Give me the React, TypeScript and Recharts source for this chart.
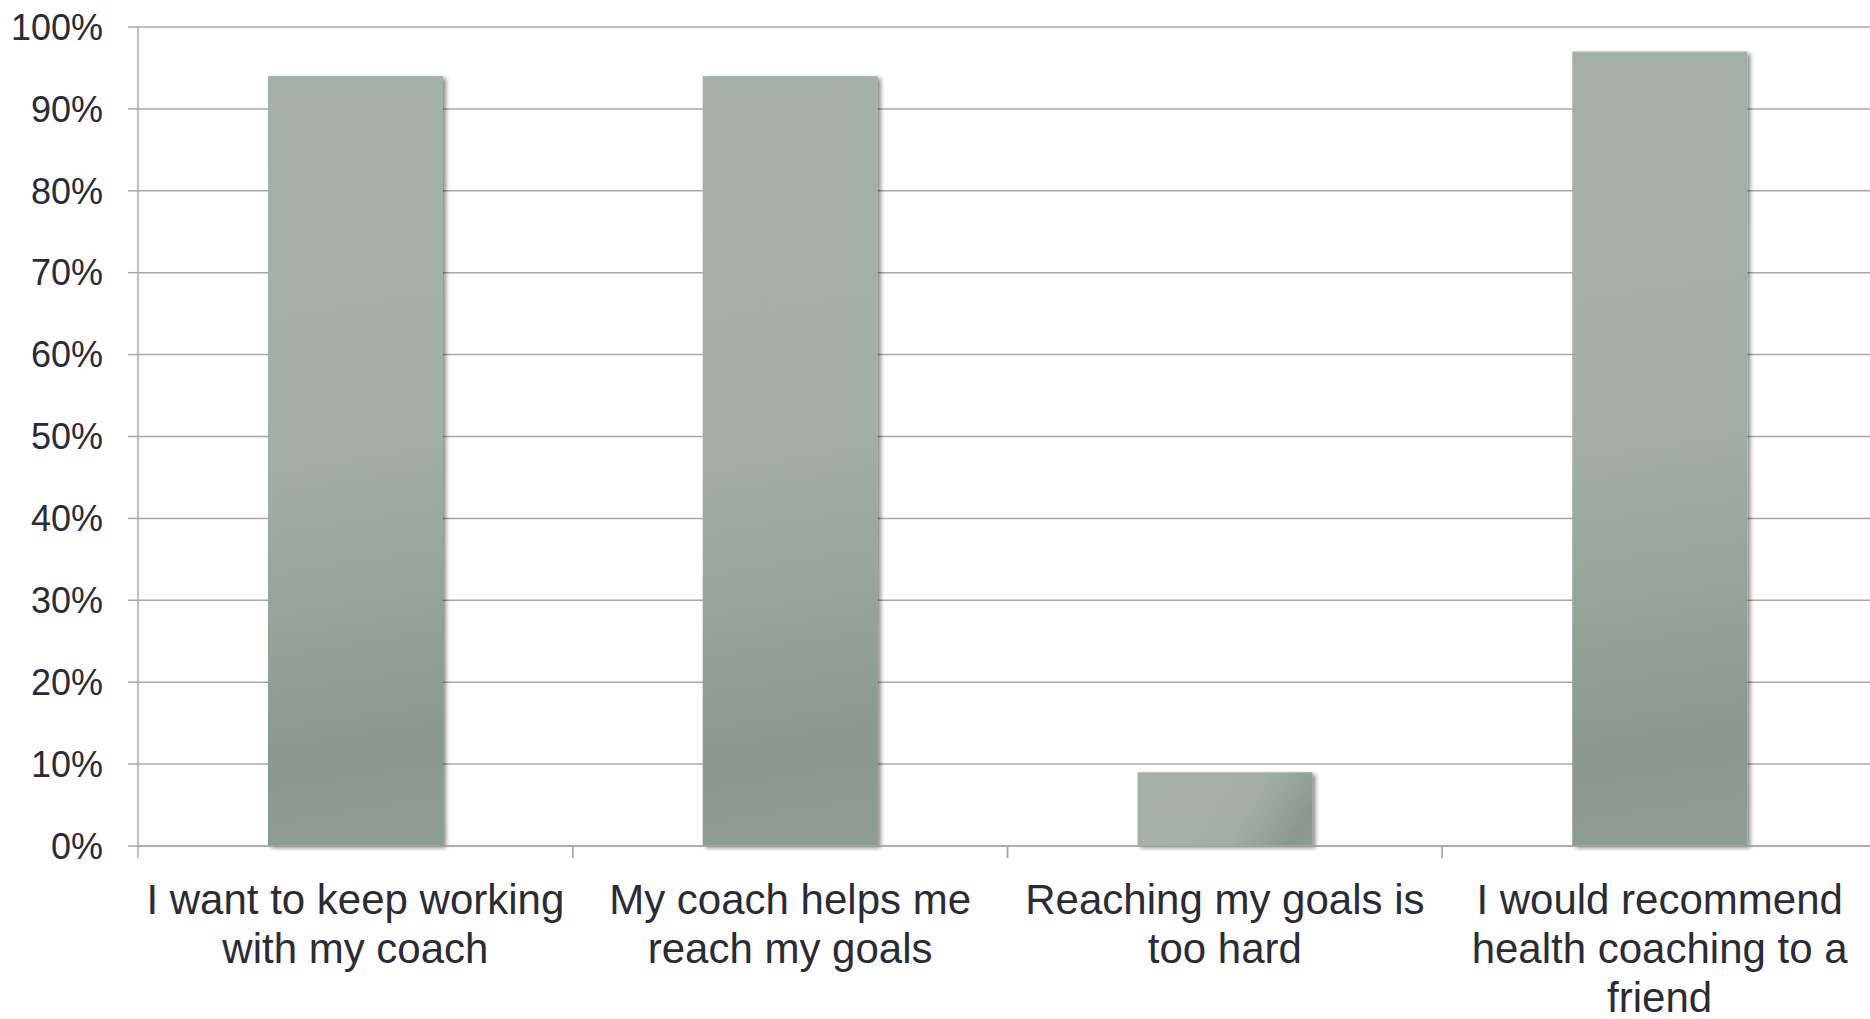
import React from 'react';
import { BarChart, Bar, XAxis, YAxis, CartesianGrid } from 'recharts';

const categories = [
  'I want to keep working with my coach',
  'My coach helps me reach my goals',
  'Reaching my goals is too hard',
  'I would recommend health coaching to a friend',
];
const agreePct = [94, 94, 9, 97];
const yTicks = [0, 10, 20, 30, 40, 50, 60, 70, 80, 90, 100];

const chartData = categories.map((name, i) => ({ name, value: agreePct[i] }));

const FONT = '"Liberation Sans", Arial, sans-serif';
const TEXT = '#2b2b36';
const GRID = '#a8a8a8';

let ctx: CanvasRenderingContext2D | null = null;
const wrap = (label: string, maxWidth: number) => {
  if (!ctx) {
    ctx = document.createElement('canvas').getContext('2d');
    if (ctx) ctx.font = `42px ${FONT}`;
  }
  const words = label.split(' ');
  const lines: string[] = [];
  let line = '';
  words.forEach(w => {
    const next = line ? `${line} ${w}` : w;
    const width = ctx ? ctx.measureText(next).width : next.length * 19;
    if (width > maxWidth && line) {
      lines.push(line);
      line = w;
    } else {
      line = next;
    }
  });
  if (line) lines.push(line);
  return lines;
};

// label plus the tick marks at the category edges (excel style)
const CategoryTick = (props: any) => {
  const { x, y, payload } = props;
  const half = payload.offset || 0;
  const lines = wrap(String(payload.value), 430);
  return (
    <g>
      <line x1={x - half} x2={x - half} y1={y} y2={y + 12} stroke={GRID} strokeWidth={1.5} />
      <line x1={x + half} x2={x + half} y1={y} y2={y + 12} stroke={GRID} strokeWidth={1.5} />
      <text x={x} y={y} textAnchor="middle" fill={TEXT} fontSize={42} fontFamily={FONT}>
        {lines.map((l, i) => (
          <tspan key={i} x={x} dy={i === 0 ? 68 : 49}>{l}</tspan>
        ))}
      </text>
    </g>
  );
};

const GradientBar = (props: any) => {
  const { x, y, width, height, index } = props;
  if (!width || !height) return null;
  const id = `barFill${index}`;
  return (
    <g>
      <defs>
        <linearGradient id={id} gradientUnits="userSpaceOnUse"
          x1={x + width * 0.3} y1={y} x2={x + width} y2={y + height}>
          <stop offset="0" stopColor="#a5b1a8" />
          <stop offset="0.48" stopColor="#a3afa6" />
          <stop offset="0.86" stopColor="#8a998f" />
          <stop offset="1" stopColor="#8f9e94" />
        </linearGradient>
      </defs>
      <rect x={x} y={y} width={width} height={height} fill={`url(#${id})`} filter="url(#barShadow)" />
    </g>
  );
};

export default function App() {
  return (
    <div style={{ position: 'fixed', left: 0, top: 0, width: 1870, height: 1019, overflow: 'hidden', background: '#fff' }}>
      <BarChart width={1877} height={1019} data={chartData} margin={{ top: 27, right: 0, bottom: 0, left: 0 }}>
        <defs>
          <filter id="barShadow" x="-10%" y="-10%" width="130%" height="130%">
            <feDropShadow dx="3" dy="2" stdDeviation="2" floodColor="#000" floodOpacity="0.45" />
          </filter>
        </defs>
        <CartesianGrid vertical={false} stroke={GRID} strokeWidth={1.5} />
        <XAxis
          dataKey="name"
          height={173}
          axisLine={{ stroke: GRID, strokeWidth: 1.5 }}
          tickLine={false}
          tickSize={0}
          tickMargin={0}
          interval={0}
          tick={<CategoryTick />}
        />
        <YAxis
          domain={[0, 100]}
          ticks={yTicks}
          width={138}
          tickSize={10}
          tickMargin={25}
          axisLine={{ stroke: GRID, strokeWidth: 1.5 }}
          tickLine={{ stroke: GRID, strokeWidth: 1.5 }}
          tick={{ fill: TEXT, fontSize: 36, fontFamily: FONT }}
          tickFormatter={(v) => `${v}%`}
        />
        <Bar dataKey="value" barSize={175} shape={<GradientBar />} isAnimationActive={false} />
      </BarChart>
    </div>
  );
}
